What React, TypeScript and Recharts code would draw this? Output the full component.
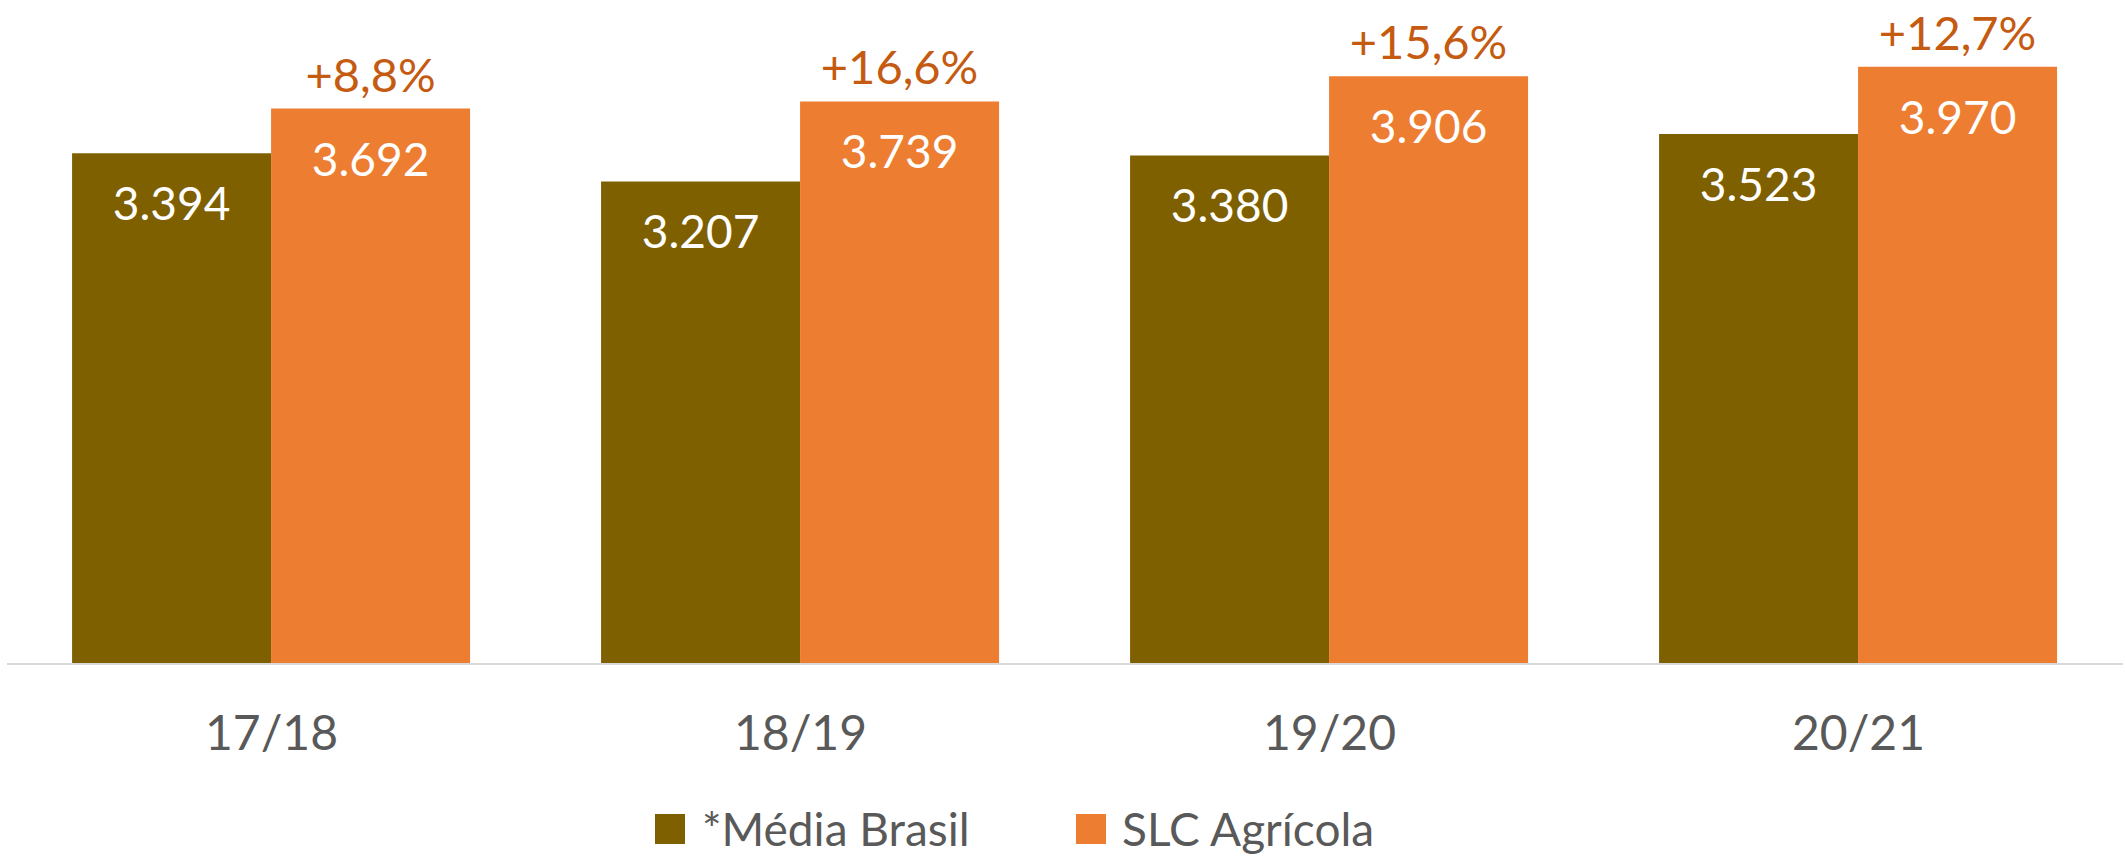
import React from "react";
import { BarChart, Bar, XAxis, YAxis, Legend, LabelList } from "recharts";

const categories = ["17/18", "18/19", "19/20", "20/21"];
const mediaBrasil = [3394, 3207, 3380, 3523];
const slcAgricola = [3692, 3739, 3906, 3970];
const variation = ["+8,8%", "+16,6%", "+15,6%", "+12,7%"];
const seriesNames = ["*Média Brasil", "SLC Agrícola"];
const seriesColors = ["#7F6000", "#ED7D31"];

const FONT = "Lato, 'Open Sans', sans-serif";
const TEXT_GRAY = "#595959";
const PCT_COLOR = "#C55A11";

const data = categories.map((c, i) => ({
  category: c,
  media: mediaBrasil[i],
  slc: slcAgricola[i],
  pct: variation[i],
}));

const fmt = (n: number) => {
  const s = String(n);
  return s.length > 3 ? s.slice(0, -3) + "." + s.slice(-3) : s;
};

const ValueLabel = (props: any) => {
  const { x, y, width, value } = props;
  return (
    <text
      x={Number(x) + Number(width) / 2}
      y={Number(y) + 67}
      textAnchor="middle"
      fill="#FFFFFF"
      fontSize={46}
      fontFamily={FONT}
    >
      {fmt(Number(value))}
    </text>
  );
};

const PctLabel = (props: any) => {
  const { x, y, width, value } = props;
  return (
    <text
      x={Number(x) + Number(width) / 2}
      y={Number(y) - 17}
      textAnchor="middle"
      fill={PCT_COLOR}
      fontSize={47}
      fontFamily={FONT}
    >
      {value}
    </text>
  );
};

const CategoryTick = (props: any) => {
  const { x, payload } = props;
  return (
    <text
      x={x}
      y={750}
      textAnchor="middle"
      fill={TEXT_GRAY}
      fontSize={48}
      fontFamily={FONT}
    >
      {payload.value}
    </text>
  );
};

const legendItems = [
  { square: 655, text: 702 },
  { square: 1076, text: 1122 },
];

const CustomLegend = () => (
  <div style={{ position: "relative", width: 2125, height: 50 }}>
    {seriesNames.map((name, i) => (
      <React.Fragment key={name}>
        <div
          style={{
            position: "absolute",
            left: legendItems[i].square,
            top: 10,
            width: 30,
            height: 30,
            background: seriesColors[i],
          }}
        />
        <div
          style={{
            position: "absolute",
            left: legendItems[i].text,
            top: 0,
            height: 50,
            lineHeight: "50px",
            fontSize: 46,
            fontFamily: FONT,
            color: TEXT_GRAY,
            whiteSpace: "nowrap",
          }}
        >
          {name}
        </div>
      </React.Fragment>
    ))}
  </div>
);

export default function App() {
  return (
    <div style={{ position: "absolute", left: 0, top: 0, width: 2125, height: 864, background: "#FFFFFF" }}>
      <BarChart
        width={2125}
        height={864}
        data={data}
        margin={{ top: 2, right: 2, left: 7, bottom: 10 }}
        barCategoryGap="12.3%"
        barGap={0}
      >
        <XAxis
          dataKey="category"
          axisLine={{ stroke: "#D9D9D9", strokeWidth: 2 }}
          tickLine={false}
          height={140}
          interval={0}
          tick={<CategoryTick />}
        />
        <YAxis hide domain={[0, 4400]} />
        <Legend
          verticalAlign="bottom"
          content={<CustomLegend />}
          wrapperStyle={{ left: 0, width: 2125, height: 50 }}
        />
        <Bar dataKey="media" name={seriesNames[0]} fill={seriesColors[0]} isAnimationActive={false}>
          <LabelList dataKey="media" content={<ValueLabel />} />
        </Bar>
        <Bar dataKey="slc" name={seriesNames[1]} fill={seriesColors[1]} isAnimationActive={false}>
          <LabelList dataKey="slc" content={<ValueLabel />} />
          <LabelList dataKey="pct" content={<PctLabel />} />
        </Bar>
      </BarChart>
    </div>
  );
}
